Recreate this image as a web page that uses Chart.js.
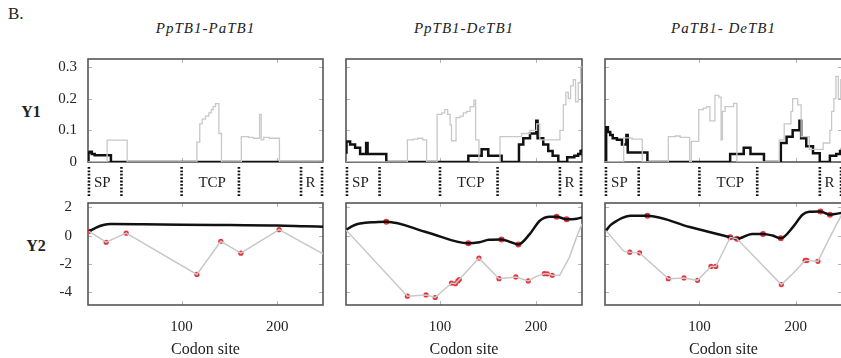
<!DOCTYPE html>
<html><head><meta charset="utf-8">
<script src="https://cdn.jsdelivr.net/npm/chart.js@4/dist/chart.umd.min.js"></script>
<style>
html,body{margin:0;padding:0;background:#fff}
body{width:841px;height:358px;overflow:hidden;position:relative;font-family:"Liberation Serif","Times New Roman",serif;color:#222}
canvas{position:absolute}
.t{position:absolute;white-space:nowrap;line-height:18px}
.title{top:19px;transform:translateX(-50%);font-style:italic;font-size:15px;letter-spacing:1px}
.ylab{font-weight:bold;font-size:16px;transform:translate(-50%,-50%)}
</style></head>
<body>
<div class="t" style="left:8px;top:5px;font-size:17px">B.</div>
<div id="titles"></div>
<div class="t ylab" style="left:31px;top:112px">Y1</div>
<div class="t ylab" style="left:36px;top:246px">Y2</div>
<script>
// ---------- data ----------
const pairNames = ['PpTB1-PaTB1', 'PpTB1-DeTB1', 'PaTB1- DeTB1'];
const codonRange = [2, 248];
const xTickValues = [100, 200];
const xTickLabels = ['100', '200'];
const xTitle = 'Codon site';
const y1Range = [0, 0.325];
const y1TickValues = [0, 0.1, 0.2, 0.3];
const y1TickLabels = ['0', '0.1', '0.2', '0.3'];
const y2Range = [-4.9, 2.3];
const y2TickValues = [-4, -2, 0, 2];
const y2TickLabels = ['-4', '-2', '0', '2'];
const domainBounds = [3, 37, 100, 160, 225, 247];
const domainNames = ['SP', 'TCP', 'R'];
const domainLabelSites = [17, 132, 235];

// Y1 (stepped) : [codon, value]
const ppPaY1Gray = [[2,0],[22,0.069],[43,0],[116,0.063],[119,0.12],[121.5,0.135],[125,0.145],[128.5,0.155],[131,0.165],[133,0.175],[135.5,0.184],[139,0.09],[141.7,0],[162.5,0.08],[170,0.078],[175.3,0.075],[181.6,0.15],[183.3,0.07],[186,0.078],[192,0.075],[202.4,0],[248,0]];
const ppPaY1Black = [[2,0],[2.5,0.03],[4,0.032],[6,0.025],[9,0.021],[26,0],[248,0]];
const ppDeY1Gray = [[2,0],[66,0.07],[72,0.072],[77,0.075],[82,0.07],[86,0],[97,0.15],[102,0.155],[105,0.165],[108,0.15],[110.5,0.117],[112,0.067],[116.7,0.14],[121,0.145],[124.3,0.155],[127.8,0.16],[131.3,0.175],[135.4,0.195],[137.1,0.07],[140.6,0],[162.5,0.08],[185,0.09],[193.8,0.1],[200.7,0.12],[204,0.07],[211,0.07],[225,0.1],[228.5,0.18],[231.2,0.22],[233.7,0.2],[236.1,0.24],[238.9,0.26],[241.3,0.19],[244.1,0.25],[246.5,0.3],[248,0.3]];
const ppDeY1Black = [[2,0.03],[2.5,0.065],[6.3,0.055],[11.5,0.045],[16.7,0.025],[23,0.06],[24.5,0.025],[44,0],[129.5,0.02],[143.4,0.04],[150.3,0.02],[164.2,0],[182.3,0.055],[186.8,0.075],[193.8,0.09],[200.3,0.13],[201.7,0.075],[207.6,0.055],[212.8,0.035],[217.4,0.02],[223.3,0],[232.6,0.015],[240,0.02],[244,0.025],[246.5,0.035],[248,0.04]];
const paDeY1Gray = [[2,0],[21.4,0.076],[30,0.072],[40.7,0],[67.7,0.08],[75,0.082],[80,0.078],[89.8,0],[91.6,0.065],[99.3,0.165],[104,0.17],[107.4,0.175],[110.9,0.13],[116.1,0.21],[120,0.205],[122.5,0.07],[123.9,0.16],[126.7,0.175],[135.4,0.185],[138.9,0],[182.8,0.07],[188,0.12],[195,0.16],[196.8,0.2],[202,0.18],[205.6,0.08],[214,0.04],[228.4,0.06],[235.4,0.1],[237.2,0.16],[239.6,0.2],[241.7,0.27],[244.2,0.2],[246.7,0.26],[248,0.28]];
const paDeY1Black = [[2.5,0],[3.2,0.11],[5,0.095],[7.4,0.085],[10,0.075],[14.4,0.07],[19.6,0.055],[24.2,0.085],[25.6,0.03],[46,0],[131.9,0.025],[146,0.045],[153,0.025],[167,0],[184.5,0.06],[190.5,0.08],[196.8,0.1],[203.8,0.13],[205.6,0.075],[210.9,0.05],[217.9,0.028],[224.9,0],[235.4,0.02],[242,0.025],[246,0.035],[248,0.045]];

// Y2 : [codon, value]
const ppPaY2Gray = [[3,0.3],[21,-0.47],[42,0.17],[116,-2.74],[141,-0.4],[162,-1.24],[202,0.42],[248,-1.29]];
const ppPaY2GrayMarks = [[3,0.3],[21,-0.47],[42,0.17],[116,-2.74],[141,-0.4],[162,-1.24],[202,0.42]];
const ppPaY2Black = [[3,0.3],[10,0.55],[18,0.75],[26,0.82],[60,0.8],[100,0.76],[150,0.74],[200,0.72],[230,0.66],[248,0.63]];
const ppPaY2BlackMarks = [];

const ppDeY2Gray = [[2,0.4],[66,-4.28],[85.4,-4.19],[95,-4.37],[112,-3.35],[116,-3.4],[118.6,-3.2],[120,-3.1],[140.6,-1.59],[161.5,-3.04],[179,-2.92],[192,-3.2],[200,-2.9],[208.7,-2.69],[211.8,-2.7],[217,-2.8],[224.7,-2.8],[235,-1.52],[243.6,0.12],[248,0.82]];
const ppDeY2GrayMarks = [[66,-4.28],[85.4,-4.19],[95,-4.37],[112,-3.35],[116,-3.4],[118.6,-3.2],[120,-3.1],[140.6,-1.59],[161.5,-3.04],[179,-2.92],[192,-3.2],[208.7,-2.69],[211.8,-2.7],[217,-2.8]];
const ppDeY2Black = [[2,0.4],[8,0.65],[14,0.82],[22,0.9],[30,0.94],[44,0.98],[87,0.22],[129.5,-0.54],[141,-0.47],[151,-0.3],[164,-0.28],[174,-0.47],[181.6,-0.63],[193.7,0.12],[204,1.05],[214.6,1.33],[221.5,1.33],[232,1.15],[242.6,1.19],[248,1.28]];
const ppDeY2BlackMarks = [[44,0.98],[129.5,-0.54],[164,-0.28],[181.6,-0.63],[221.5,1.33],[232,1.15]];

const paDeY2Gray = [[3,0.35],[21.4,-1.1],[27.7,-1.17],[37.9,-1.22],[67.7,-3.04],[84,-2.99],[98,-3.16],[112,-2.18],[117,-2.18],[132,-0.12],[139,-0.23],[185,-3.46],[196.8,-2.69],[209.8,-1.75],[211.5,-1.75],[223,-1.82],[232,-0.58],[242.6,0.82],[249.5,1.68]];
const paDeY2GrayMarks = [[27.7,-1.17],[37.9,-1.22],[67.7,-3.04],[84,-2.99],[98,-3.16],[112,-2.18],[117,-2.18],[185,-3.46],[209.8,-1.75],[211.5,-1.75],[223,-1.82]];
const paDeY2Black = [[3,0.35],[8,0.75],[14.4,1.05],[20,1.25],[28.4,1.4],[46,1.4],[90,0.6],[132,-0.12],[139,-0.23],[154.7,0.12],[166,0.12],[176,0],[184.5,-0.19],[196.8,0.58],[207,1.47],[214,1.68],[225.6,1.7],[235.5,1.47],[243,1.55],[249.5,1.63]];
const paDeY2BlackMarks = [[46,1.4],[132,-0.12],[139,-0.23],[166,0.12],[184.5,-0.19],[225.6,1.7],[235.5,1.47]];

const panelY1 = [[ppPaY1Gray, ppPaY1Black], [ppDeY1Gray, ppDeY1Black], [paDeY1Gray, paDeY1Black]];
const panelY2 = [
  [ppPaY2Gray, ppPaY2Black, ppPaY2GrayMarks, ppPaY2BlackMarks],
  [ppDeY2Gray, ppDeY2Black, ppDeY2GrayMarks, ppDeY2BlackMarks],
  [paDeY2Gray, paDeY2Black, paDeY2GrayMarks, paDeY2BlackMarks]
];

// ---------- layout & style ----------
const FONT = "'Liberation Serif', serif";
const P = 30;
const Y_AXIS_W = 40;
const X_AXIS_H = 54;
const cols = [{L:88,R:323},{L:346,R:582},{L:605,R:842}];
const rowTop = {T:59,B:162}, rowDom = {T:167,B:196}, rowBot = {T:203,B:305};
const GRAY = '#c8c8c8', BLACK = '#111', RED = '#e8333b', TEXT = '#222';

Chart.defaults.font.family = FONT;
Chart.defaults.color = TEXT;

const pts = a => a.map(([x, y]) => ({x, y}));
const setTicks = vals => s => { s.ticks = vals.map(v => ({value: v})); };

const framePlugin = {
  id: 'frame',
  beforeDatasetsDraw(chart, args, o) {
    const {ctx, chartArea: a, scales} = chart;
    ctx.save();
    ctx.strokeStyle = '#b5b5b5'; ctx.lineWidth = 1;
    ctx.beginPath();
    (o.xt || []).forEach(v => {
      const px = Math.round(scales.x.getPixelForValue(v)) + 0.5;
      ctx.moveTo(px, a.top); ctx.lineTo(px, a.top + 4);
      ctx.moveTo(px, a.bottom); ctx.lineTo(px, a.bottom - 4);
    });
    (o.yt || []).forEach(v => {
      const py = Math.round(scales.y.getPixelForValue(v)) + 0.5;
      ctx.moveTo(a.left, py); ctx.lineTo(a.left + 4, py);
      ctx.moveTo(a.right, py); ctx.lineTo(a.right - 4, py);
    });
    ctx.stroke();
    ctx.strokeStyle = '#555'; ctx.lineWidth = 1.6;
    ctx.strokeRect(a.left, a.top, a.right - a.left, a.bottom - a.top);
    ctx.restore();
  }
};

const domainTextPlugin = {
  id: 'domainText',
  afterDatasetsDraw(chart) {
    const {ctx, chartArea: a, scales} = chart;
    ctx.save();
    ctx.font = '15px ' + FONT; ctx.fillStyle = TEXT;
    ctx.textAlign = 'center'; ctx.textBaseline = 'middle';
    domainNames.forEach((n, i) => ctx.fillText(n, scales.x.getPixelForValue(domainLabelSites[i]), (a.top + a.bottom) / 2 + 1.5));
    ctx.restore();
  }
};

function makeCanvas(area, yW, xH) {
  const c = document.createElement('canvas');
  const w = area.R - area.L + yW + 2 * P, h = area.B - area.T + xH + 2 * P;
  c.width = w; c.height = h;
  c.style.left = (area.L - P - yW) + 'px'; c.style.top = (area.T - P) + 'px';
  c.style.width = w + 'px'; c.style.height = h + 'px';
  document.body.appendChild(c);
  return c;
}

function xScale(show) {
  const s = {
    type: 'linear', min: codonRange[0], max: codonRange[1], display: show,
    afterBuildTicks: setTicks(xTickValues),
    grid: {display: false, drawTicks: false}, border: {display: false},
    ticks: {font: {family: FONT, size: 15}, color: TEXT, padding: 13, maxRotation: 0,
      callback: v => xTickLabels[xTickValues.indexOf(v)] ?? ''},
    title: {display: show, text: xTitle, font: {family: FONT, size: 16}, color: TEXT, padding: 0}
  };
  if (show) s.afterFit = sc => { sc.height = X_AXIS_H; };
  return s;
}
function yScale(range, tv, tl, show, pad) {
  const s = {
    type: 'linear', min: range[0], max: range[1], display: show,
    afterBuildTicks: setTicks(tv),
    grid: {display: false, drawTicks: false}, border: {display: false},
    ticks: {font: {family: FONT, size: 15}, color: TEXT, padding: pad,
      callback: v => tl[tv.indexOf(v)] ?? ''}
  };
  if (show) s.afterFit = sc => { sc.width = Y_AXIS_W; };
  return s;
}
const baseOpts = {
  responsive: false, animation: false, devicePixelRatio: 1,
  layout: {padding: P},
  events: []
};

const titles = document.getElementById('titles');
cols.forEach((col, i) => {
  const d = document.createElement('div');
  d.className = 't title';
  d.style.left = ((col.L + col.R) / 2) + 'px';
  d.textContent = pairNames[i];
  titles.appendChild(d);

  const first = i === 0;
  const yW = first ? Y_AXIS_W : 0;

  // Y1 panel
  const [g1, b1] = panelY1[i];
  new Chart(makeCanvas({L: col.L, R: col.R, T: rowTop.T, B: rowTop.B}, yW, 0), {
    type: 'line',
    data: {datasets: [
      {data: pts(g1), borderColor: GRAY, borderWidth: 1.3, stepped: true, pointRadius: 0},
      {data: pts(b1), borderColor: BLACK, borderWidth: 2.5, stepped: true, pointRadius: 0}
    ]},
    options: Object.assign({}, baseOpts, {
      scales: {x: xScale(false), y: yScale(y1Range, y1TickValues, y1TickLabels, first, 11)},
      plugins: {legend: {display: false}, tooltip: {enabled: false}, frame: {xt: xTickValues, yt: y1TickValues}}
    }),
    plugins: [framePlugin]
  });

  // domain row
  new Chart(makeCanvas({L: col.L, R: col.R, T: rowDom.T, B: rowDom.B}, 0, 0), {
    type: 'line',
    data: {datasets: domainBounds.map(b => ({
      data: [{x: b, y: 0}, {x: b, y: 1}], borderColor: BLACK, borderWidth: 2.6,
      borderDash: [1.8, 1.6], pointRadius: 0, clip: false
    }))},
    options: Object.assign({}, baseOpts, {
      scales: {x: xScale(false), y: {type: 'linear', min: 0, max: 1, display: false}},
      plugins: {legend: {display: false}, tooltip: {enabled: false}}
    }),
    plugins: [domainTextPlugin]
  });

  // Y2 panel
  const [g2, b2, gm, bm] = panelY2[i];
  new Chart(makeCanvas({L: col.L, R: col.R, T: rowBot.T, B: rowBot.B}, yW, X_AXIS_H), {
    type: 'line',
    data: {datasets: [
      {data: pts(g2), borderColor: GRAY, borderWidth: 1.5, tension: 0, pointRadius: 0},
      {data: pts(b2), borderColor: BLACK, borderWidth: 2.5, cubicInterpolationMode: 'monotone', pointRadius: 0},
      {type: 'scatter', data: pts(gm), showLine: false, pointRadius: 2.6, pointBorderWidth: 0, pointBackgroundColor: RED},
      {type: 'scatter', data: pts(bm), showLine: false, pointRadius: 3, pointBorderWidth: 0, pointBackgroundColor: RED}
    ]},
    options: Object.assign({}, baseOpts, {
      scales: {x: xScale(true), y: yScale(y2Range, y2TickValues, y2TickLabels, first, 16)},
      plugins: {legend: {display: false}, tooltip: {enabled: false}, frame: {xt: xTickValues, yt: y2TickValues}}
    }),
    plugins: [framePlugin]
  });
});
</script>
</body></html>
